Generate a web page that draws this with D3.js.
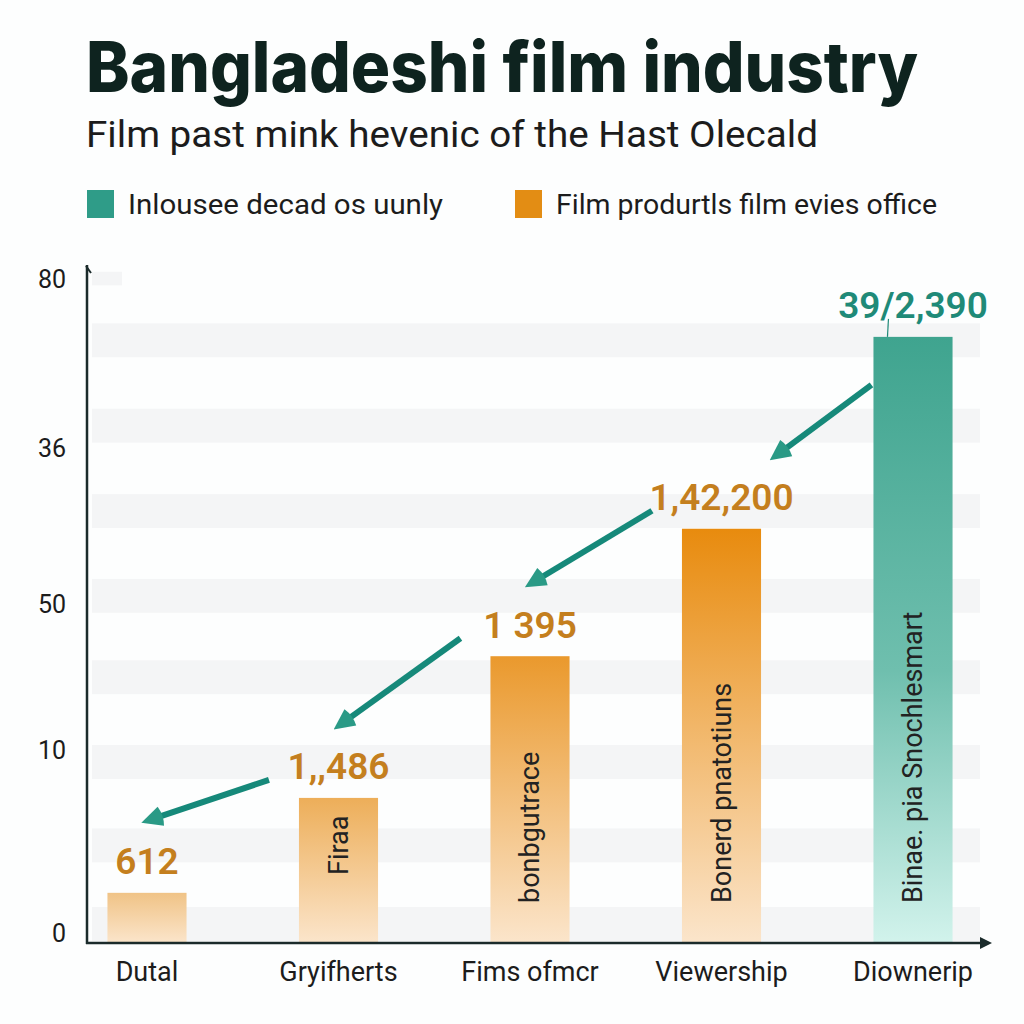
<!DOCTYPE html>
<html>
<head>
<meta charset="utf-8">
<script src="https://cdn.jsdelivr.net/npm/d3@7"></script>
<style>
  html, body { margin: 0; padding: 0; background: #fdfefe; }
  svg { display: block; }
</style>
</head>
<body>
<svg id="chart" width="1024" height="1024"></svg>
<script>
// ---- data ----
const categories = ["Dutal", "Gryifherts", "Fims ofmcr", "Viewership", "Diownerip"];
const barValues = [7.4, 21.4, 42.3, 61.1, 89.4];
const valueLabels = ["612", "1,,486", "1 395", "1,42,200", "39/2,390"];
const innerLabels = ["", "Firaa", "bonbgutrace", "Bonerd pnatotiuns", "Binae. pia Snochlesmart"];
const seriesOf = ["orange", "orange", "orange", "orange", "teal"];
const yTickValues = [1.5, 28.5, 50, 73, 98];
const yTickLabels = ["0", "10", "50", "36", "80"];
const gridBandValues = [91.4, 78.8, 66.2, 53.7, 41.7, 29.2, 16.9, 5.3];
const legendLabels = ["Inlousee decad os uunly", "Film produrtls film evies office"];
const titleText = "Bangladeshi film industry";
const subtitleText = "Film past mink hevenic of the Hast Olecald";

// ---- setup ----
const svg = d3.select("#chart");
const teal = "#2f9c88", orange = "#e38d14";
const axisX = 87, axisBottom = 943, axisTop = 265;

const x = d3.scaleBand().domain(categories).range([86, 974]).paddingInner(0.587).paddingOuter(0.112);
const y = d3.scaleLinear().domain([0, 100]).range([axisBottom, axisTop]);

svg.append("rect").attr("width", 1024).attr("height", 1024).attr("fill", "#fdfefe");

const defs = svg.append("defs");
const vOrange = barValues.filter((v, i) => seriesOf[i] === "orange");
const tScale = d3.scaleSqrt().domain([d3.min(vOrange), d3.max(vOrange)]).range([0, 1]);
barValues.forEach((v, i) => {
  const g = defs.append("linearGradient").attr("id", "g" + i)
    .attr("x1", 0).attr("y1", 0).attr("x2", 0).attr("y2", 1);
  if (seriesOf[i] === "teal") {
    g.append("stop").attr("offset", "0%").attr("stop-color", "#3fa48f");
    g.append("stop").attr("offset", "55%").attr("stop-color", "#6fbfae");
    g.append("stop").attr("offset", "100%").attr("stop-color", "#d2f3ec");
  } else {
    const top = d3.interpolateRgb("#f0c386", "#e88b0e")(tScale(v));
    g.append("stop").attr("offset", "0%").attr("stop-color", top);
    g.append("stop").attr("offset", "100%").attr("stop-color", "#fbe5cb");
  }
});
defs.append("marker").attr("id", "ahead").attr("viewBox", "0 0 10 10")
  .attr("refX", 3).attr("refY", 5).attr("markerWidth", 3.8).attr("markerHeight", 3.8)
  .attr("orient", "auto-start-reverse").attr("markerUnits", "strokeWidth")
  .append("path").attr("d", "M10,5 L1,0.6 Q-0.5,5 1,9.4 Z").attr("fill", "#2a9a86");
defs.append("marker").attr("id", "xarrow").attr("viewBox", "0 0 10 10")
  .attr("refX", 2).attr("refY", 5).attr("markerWidth", 5).attr("markerHeight", 5)
  .attr("orient", "auto").attr("markerUnits", "strokeWidth")
  .append("path").attr("d", "M0,0 L10,5 L0,10 Z").attr("fill", "#1b2b2b");

// ---- title ----
svg.append("text").attr("x", 86).attr("y", 92).text(titleText)
  .attr("font-family", "Inter, Roboto, sans-serif").attr("font-weight", 800)
  .attr("font-size", 70).attr("fill", "#0e231f")
  .attr("textLength", 832).attr("lengthAdjust", "spacingAndGlyphs");
svg.append("text").attr("x", 86).attr("y", 147).text(subtitleText)
  .attr("font-family", "Roboto, sans-serif").attr("font-weight", 400)
  .attr("font-size", 37).attr("fill", "#1c1c1c")
  .attr("textLength", 732).attr("lengthAdjust", "spacingAndGlyphs");

// ---- legend ----
const legendX = [87, 515];
const legendTextLen = [315, 381];
legendLabels.forEach((l, i) => {
  svg.append("rect").attr("x", legendX[i]).attr("y", 190).attr("width", 27).attr("height", 28)
    .attr("fill", i === 0 ? teal : orange);
  svg.append("text").attr("x", legendX[i] + 41).attr("y", 214).text(l)
    .attr("font-family", "Roboto, sans-serif").attr("font-size", 28).attr("fill", "#1c1c1c")
    .attr("textLength", legendTextLen[i]).attr("lengthAdjust", "spacingAndGlyphs");
});

// ---- grid bands ----
svg.append("g").selectAll("rect").data(gridBandValues).join("rect")
  .attr("x", 92).attr("width", 888)
  .attr("y", d => y(d)).attr("height", y(0) - y(5))
  .attr("fill", "#f4f5f6");
svg.append("rect").attr("x", 92).attr("width", 30).attr("y", y(99)).attr("height", y(0) - y(2))
  .attr("fill", "#f4f5f6");

// ---- y ticks ----
svg.append("g").selectAll("text").data(yTickValues).join("text")
  .attr("x", 66).attr("y", d => y(d)).attr("dy", "0.36em")
  .attr("text-anchor", "end").text((d, i) => yTickLabels[i])
  .attr("font-family", "Roboto, sans-serif").attr("font-size", 25).attr("fill", "#1c1c1c");

// ---- bars ----
const bars = svg.append("g");
bars.selectAll("rect").data(barValues).join("rect")
  .attr("x", (d, i) => x(categories[i]))
  .attr("width", x.bandwidth())
  .attr("y", d => y(d))
  .attr("height", d => y(0) - y(d))
  .attr("fill", (d, i) => `url(#g${i})`);

bars.selectAll("text.inner").data(barValues).join("text").attr("class", "inner")
  .text((d, i) => innerLabels[i])
  .attr("transform", (d, i) => {
    const cx = x(categories[i]) + x.bandwidth() / 2;
    const h = y(0) - y(d);
    const sy = y(0) - 40 - (h < 200 ? 28 : 0);
    return `translate(${cx},${sy}) rotate(-90)`;
  })
  .attr("dy", "0.35em")
  .attr("font-family", "Roboto, sans-serif").attr("font-size", 27).attr("fill", "#222");

svg.append("g").selectAll("text").data(barValues).join("text")
  .attr("x", (d, i) => x(categories[i]) + x.bandwidth() / 2)
  .attr("y", d => y(d) - 32).attr("dy", "0.36em")
  .attr("text-anchor", "middle").text((d, i) => valueLabels[i])
  .attr("font-family", "Roboto, sans-serif").attr("font-weight", 600)
  .attr("font-size", 37)
  .attr("fill", (d, i) => seriesOf[i] === "teal" ? "#1f8a78" : "#c47f1e");
barValues.forEach((d, i) => {
  if (seriesOf[i] !== "teal") return;
  const lx = x(categories[i]) + 14;
  svg.append("line").attr("x1", lx).attr("x2", lx + 1).attr("y1", y(d)).attr("y2", y(d) - 18)
    .attr("stroke", "#1f8a78").attr("stroke-width", 1.2);
});

// ---- arrows between bars ----
const arrows = svg.append("g");
for (let i = 0; i < barValues.length - 1; i++) {
  const nextLeft = x(categories[i + 1]);
  const nextTop = y(barValues[i + 1]);
  const last = seriesOf[i + 1] === "teal";
  const sx = last ? nextLeft - 2 : nextLeft - 30;
  const sy = last ? nextTop + 48 : nextTop - 18;
  const ex = x(categories[i]) + x.bandwidth() / 2 + (last ? 53 : 0);
  const ey = y(barValues[i]) - 72;
  const dx = sx - ex, dy = sy - ey, len = Math.hypot(dx, dy);
  const k = 10 / len;
  arrows.append("line")
    .attr("x1", sx).attr("y1", sy).attr("x2", ex + dx * k).attr("y2", ey + dy * k)
    .attr("stroke", "#16897a").attr("stroke-width", 6)
    .attr("marker-end", "url(#ahead)");
}

// ---- axes ----
svg.append("line").attr("x1", axisX).attr("x2", axisX).attr("y1", axisTop).attr("y2", axisBottom + 1)
  .attr("stroke", "#1b2b2b").attr("stroke-width", 2.5);
svg.append("path").attr("d", `M${axisX - 1},${axisTop + 1} L${axisX + 4},${axisTop + 8}`)
  .attr("stroke", "#1b2b2b").attr("stroke-width", 2).attr("fill", "none");
svg.append("line").attr("x1", axisX - 1).attr("x2", 982).attr("y1", axisBottom).attr("y2", axisBottom)
  .attr("stroke", "#1b2b2b").attr("stroke-width", 2.5).attr("marker-end", "url(#xarrow)");

svg.append("g").selectAll("text").data(categories).join("text")
  .attr("x", d => x(d) + x.bandwidth() / 2).attr("y", 981)
  .attr("text-anchor", "middle").text(d => d)
  .attr("font-family", "Roboto, sans-serif").attr("font-size", 27).attr("fill", "#1c1c1c");
</script>
</body>
</html>
